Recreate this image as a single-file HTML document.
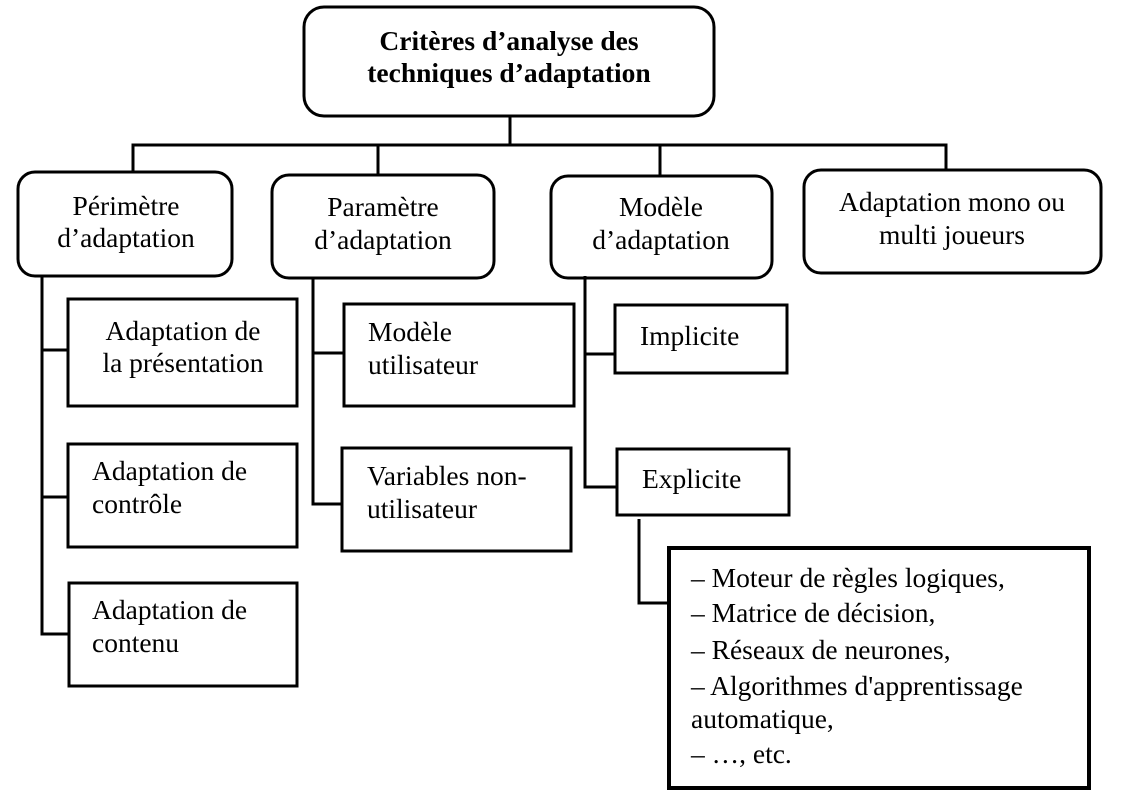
<!DOCTYPE html>
<html><head><meta charset="utf-8"><style>
html,body{margin:0;padding:0;background:#fff;}
svg{display:block;}
text{font-family:"Liberation Serif",serif;font-size:27.5px;fill:#000;}
</style></head><body>
<svg width="1125" height="808" viewBox="0 0 1125 808" xmlns="http://www.w3.org/2000/svg">
<g fill="none" stroke="#000" stroke-width="3">
<rect x="304" y="7" width="410" height="109" rx="20"/>
<rect x="18" y="172" width="214" height="104" rx="17"/>
<rect x="272" y="175" width="222" height="103" rx="17"/>
<rect x="551" y="176" width="221" height="102" rx="17"/>
<rect x="804" y="170" width="297" height="103" rx="17"/>
<polyline points="510,116 510,145"/>
<polyline points="133,172 133,145 946,145 946,170"/>
<line x1="378" y1="145" x2="378" y2="175"/>
<line x1="660" y1="145" x2="660" y2="176"/>
<rect x="68" y="299" width="229" height="107"/>
<rect x="68" y="444" width="229" height="103"/>
<rect x="69" y="583" width="228" height="103"/>
<polyline points="42,276 42,634 69,634"/>
<line x1="42" y1="350" x2="68" y2="350"/>
<line x1="42" y1="497" x2="68" y2="497"/>
<rect x="344" y="304" width="230" height="102"/>
<rect x="342" y="448" width="229" height="103"/>
<polyline points="313,278 313,504 342,504"/>
<line x1="313" y1="353" x2="344" y2="353"/>
<rect x="615" y="305" width="172" height="68"/>
<rect x="617" y="449" width="172" height="66"/>
<polyline points="585,276 585,487 617,487"/>
<line x1="585" y1="354" x2="615" y2="354"/>
<polyline points="639,519 639,603 668,603"/>
<rect x="669" y="548" width="420" height="240" stroke-width="4"/>
</g>
<text x="509" y="50" text-anchor="middle" font-weight="bold">Critères d’analyse des</text>
<text x="509" y="82" text-anchor="middle" font-weight="bold">techniques d’adaptation</text>
<text x="126" y="215" text-anchor="middle">Périmètre</text>
<text x="126" y="247" text-anchor="middle">d’adaptation</text>
<text x="383" y="216" text-anchor="middle">Paramètre</text>
<text x="383" y="249" text-anchor="middle">d’adaptation</text>
<text x="661" y="216" text-anchor="middle">Modèle</text>
<text x="661" y="249" text-anchor="middle">d’adaptation</text>
<text x="952" y="211" text-anchor="middle">Adaptation mono ou</text>
<text x="952" y="244" text-anchor="middle">multi joueurs</text>
<text x="183" y="340" text-anchor="middle">Adaptation de</text>
<text x="183" y="372" text-anchor="middle">la présentation</text>
<text x="92" y="480">Adaptation de</text>
<text x="92" y="513">contrôle</text>
<text x="92" y="619">Adaptation de</text>
<text x="92" y="652">contenu</text>
<text x="368" y="341">Modèle</text>
<text x="368" y="374">utilisateur</text>
<text x="367" y="485">Variables non-</text>
<text x="367" y="518">utilisateur</text>
<text x="640" y="345">Implicite</text>
<text x="642" y="488">Explicite</text>
<text x="691" y="587">– Moteur de règles logiques,</text>
<text x="691" y="622">– Matrice de décision,</text>
<text x="691" y="659">– Réseaux de neurones,</text>
<text x="691" y="695">– Algorithmes d'apprentissage</text>
<text x="691" y="728">automatique,</text>
<text x="691" y="763">– …, etc.</text>
</svg>
</body></html>
